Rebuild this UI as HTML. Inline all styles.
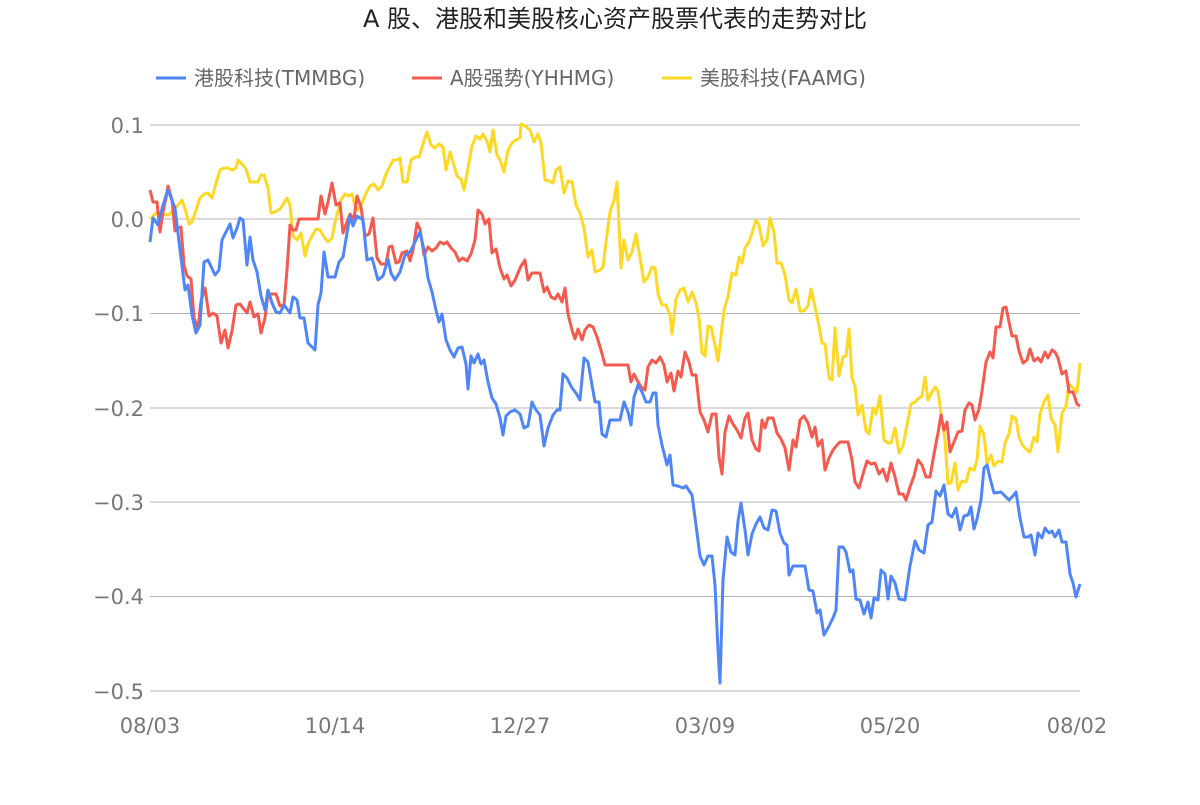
<!DOCTYPE html>
<html><head><meta charset="utf-8"><style>
body{margin:0;background:#fff;width:1200px;height:800px;overflow:hidden}
svg{font-family:"DejaVu Sans","Noto Sans CJK SC",sans-serif}
</style></head><body>
<svg width="1200" height="800" xmlns="http://www.w3.org/2000/svg">
<text x="615" y="27" text-anchor="middle" font-size="24" fill="#222">A 股、港股和美股核心资产股票代表的走势对比</text>
<g font-size="20" fill="#666">
<line x1="156" y1="78" x2="186" y2="78" stroke="#4f86f7" stroke-width="3"/><text x="194" y="85">港股科技(TMMBG)</text>
<line x1="412" y1="78" x2="442" y2="78" stroke="#f55a4e" stroke-width="3"/><text x="450" y="85">A股强势(YHHMG)</text>
<line x1="662" y1="78" x2="692" y2="78" stroke="#fdd824" stroke-width="3"/><text x="700" y="85">美股科技(FAAMG)</text>
</g>
<g stroke="#b4b4b4" stroke-width="1">
<line x1="150" y1="125" x2="1080" y2="125"/><line x1="150" y1="219" x2="1080" y2="219"/>
<line x1="150" y1="313.5" x2="1080" y2="313.5"/><line x1="150" y1="408" x2="1080" y2="408"/>
<line x1="150" y1="502" x2="1080" y2="502"/><line x1="150" y1="596.5" x2="1080" y2="596.5"/>
<line x1="150" y1="691" x2="1080" y2="691"/>
</g>
<g font-size="21" fill="#777" text-anchor="end">
<text x="144" y="133">0.1</text><text x="144" y="227">0.0</text><text x="144" y="321">−0.1</text>
<text x="144" y="416">−0.2</text><text x="144" y="510">−0.3</text><text x="144" y="604">−0.4</text><text x="144" y="699">−0.5</text>
</g>
<g font-size="21" fill="#777" text-anchor="middle">
<text x="150" y="733">08/03</text><text x="335" y="733">10/14</text><text x="520" y="733">12/27</text>
<text x="705" y="733">03/09</text><text x="890" y="733">05/20</text><text x="1077" y="733">08/02</text>
</g>
<g fill="none" stroke-width="3" stroke-linejoin="round">
<polyline stroke="#fdd824" points="150,219 155,214 158,212 162,215 166,215 170,214 174,209 178,205 182,200 186,212 189,224 192,222 196,210 200,198 204,194 208,193 212,198 216,183 220,170 224,168 228,168 232,170 236,168 238,160 242,164 246,169 250,182 254,182 258,182 261,175 264,175 268,188 271,213 275,212 280,209 284,203 287,198 290,205 293,236 297,240 301,233 305,256 308,244 312,236 316,229 320,230 324,237 328,242 332,238 335,222 338,211 341,200 345,194 349,196 352,194 355,206 358,210 362,203 366,193 370,186 374,184 378,190 382,186 386,174 390,166 393,160 397,160 400,158 403,182 407,182 411,160 415,157 419,157 423,144 427,132 431,145 435,148 439,144 443,147 446,170 450,152 453,162 457,176 461,179 464,190 468,168 472,146 476,136 480,139 483,134 487,141 490,152 493,130 497,155 500,160 504,172 508,150 512,143 516,140 520,138 521,124 525,126 530,130 534,142 538,134 541,143 545,180 549,181 553,183 556,170 560,167 564,193 568,181 572,182 576,205 580,213 584,228 588,257 592,250 595,272 600,270 603,267 606,242 610,212 614,200 617,182 621,268 624,240 628,260 632,252 636,234 640,258 644,282 648,277 652,267 655,268 658,294 662,305 666,305 670,315 672,334 676,299 680,290 684,288 688,302 692,292 696,303 699,318 702,353 705,356 708,326 711,327 715,345 718,361 721,336 724,310 728,296 732,273 736,275 739,257 742,263 745,248 749,242 752,233 756,220 759,225 763,246 767,240 770,218 774,233 777,263 781,263 785,275 789,300 792,303 796,289 800,311 804,311 808,306 811,289 815,307 819,326 822,343 825,344 829,378 832,380 835,328 839,376 843,357 846,356 849,329 852,378 855,386 858,415 862,405 866,431 869,434 873,408 876,414 880,396 884,440 888,443 891,443 895,428 899,453 903,446 907,425 911,404 915,402 919,398 922,396 925,377 928,400 932,392 935,387 938,391 941,413 945,440 948,484 951,483 955,463 958,490 962,481 966,482 970,468 974,470 977,460 980,426 984,435 987,464 991,455 994,466 998,461 1002,462 1005,443 1009,434 1012,416 1016,419 1019,437 1023,446 1027,450 1030,452 1034,437 1037,442 1040,414 1044,402 1048,395 1051,418 1055,425 1058,452 1062,413 1066,406 1069,384 1073,388 1077,392 1080,363"/>
<polyline stroke="#f55a4e" points="150,190 153,202 157,202 160,232 163,212 166,198 168,186 172,200 175,231 178,228 181,227 184,265 187,276 191,279 194,318 198,328 201,301 205,288 209,316 213,313 217,316 221,343 225,330 228,348 232,331 236,305 240,304 243,308 247,313 250,302 254,317 258,314 261,333 265,318 268,294 272,294 276,294 280,306 284,305 287,270 290,225 293,230 296,230 299,219 305,219 310,219 318,219 321,196 325,214 328,202 332,183 336,205 340,203 343,233 347,222 350,214 354,219 357,196 361,207 365,236 369,234 373,218 377,258 381,264 386,264 389,247 392,246 396,263 399,262 402,253 407,251 410,261 413,250 417,223 420,229 424,255 428,247 432,251 436,248 440,242 444,244 447,242 451,248 455,252 459,261 463,258 467,261 471,254 475,240 478,210 482,214 485,224 489,219 492,253 496,249 500,268 504,279 507,275 511,286 515,280 518,273 521,266 525,260 528,280 532,273 536,273 540,273 544,292 547,287 551,297 555,299 558,294 562,302 565,288 568,314 572,330 575,339 578,329 582,340 585,330 589,325 593,327 597,337 601,350 605,365 612,365 628,365 631,382 634,374 637,380 641,387 645,390 648,367 652,360 656,363 660,357 664,365 667,382 671,373 674,391 678,371 681,377 685,352 689,362 692,375 696,375 700,412 704,420 708,432 712,414 716,414 719,457 722,474 725,432 729,416 733,424 737,430 741,438 745,418 748,413 752,440 756,449 759,451 762,420 765,428 768,418 773,418 777,433 781,439 785,448 789,470 793,440 796,447 800,420 804,416 808,423 812,437 815,427 818,446 822,440 825,470 829,458 833,450 837,445 840,442 848,442 852,460 855,482 859,488 863,474 867,461 871,464 875,463 879,474 883,469 887,481 891,463 895,477 899,494 903,494 906,500 910,487 914,476 918,460 922,465 926,477 930,477 934,454 938,433 941,415 944,430 947,422 950,452 954,442 958,432 962,431 965,410 969,403 972,405 975,420 979,409 982,391 986,362 990,352 993,358 996,327 1000,327 1003,308 1006,307 1009,322 1012,336 1016,336 1019,351 1023,363 1027,360 1030,349 1034,361 1038,358 1041,362 1045,352 1048,358 1052,350 1055,352 1058,358 1062,374 1066,371 1069,392 1073,392 1077,404 1080,406"/>
<polyline stroke="#4f86f7" points="150,242 153,218 158,225 163,205 168,190 175,208 180,250 185,290 188,285 192,315 196,333 200,325 204,262 208,260 215,275 219,270 222,240 226,232 230,224 233,238 237,228 240,218 243,220 247,265 250,237 253,260 257,272 261,296 265,310 268,290 272,303 276,312 280,313 284,305 290,313 293,297 297,300 300,318 304,318 308,343 315,350 318,305 321,293 324,252 328,277 335,277 339,262 343,257 347,233 350,216 353,226 357,216 363,220 367,260 372,258 378,280 383,276 388,259 391,273 395,280 400,272 405,255 410,252 416,240 420,232 424,250 428,278 432,292 436,310 439,322 442,314 446,340 450,350 454,357 458,348 462,347 466,364 468,389 471,356 474,363 478,354 481,364 484,360 488,382 492,398 496,404 500,418 503,435 506,416 510,412 515,410 520,414 524,428 528,426 532,402 536,410 540,415 544,446 548,428 553,415 557,410 560,410 563,374 567,378 572,388 576,393 580,400 584,358 588,362 592,385 595,402 599,402 602,434 606,437 610,420 620,420 624,402 628,412 631,425 634,397 638,385 642,392 646,402 650,402 653,393 656,393 658,425 662,445 667,465 670,455 673,485 678,486 683,488 686,486 692,495 696,525 700,556 704,565 708,556 712,556 715,585 718,650 720,683 723,580 727,537 731,552 735,555 738,521 741,503 745,530 748,555 752,534 756,524 760,517 764,528 768,530 772,510 776,511 780,533 784,543 787,545 789,575 793,566 800,566 805,566 809,590 813,591 817,613 820,610 824,635 828,628 833,618 836,610 839,547 843,547 846,552 850,572 853,570 856,599 860,600 864,614 868,602 871,618 874,598 878,600 881,570 885,574 888,599 891,576 895,583 899,599 905,600 910,566 915,541 919,550 924,553 928,525 932,522 936,491 940,496 944,485 948,514 952,517 956,508 960,530 964,516 968,515 971,507 974,529 977,519 981,500 984,468 987,465 990,478 994,493 1001,492 1005,496 1009,500 1012,497 1016,492 1020,518 1024,537 1028,537 1031,535 1035,555 1038,533 1042,538 1045,528 1049,533 1052,531 1055,537 1059,530 1062,542 1066,542 1070,574 1073,583 1076,597 1080,584"/>
</g>
</svg>
</body></html>
